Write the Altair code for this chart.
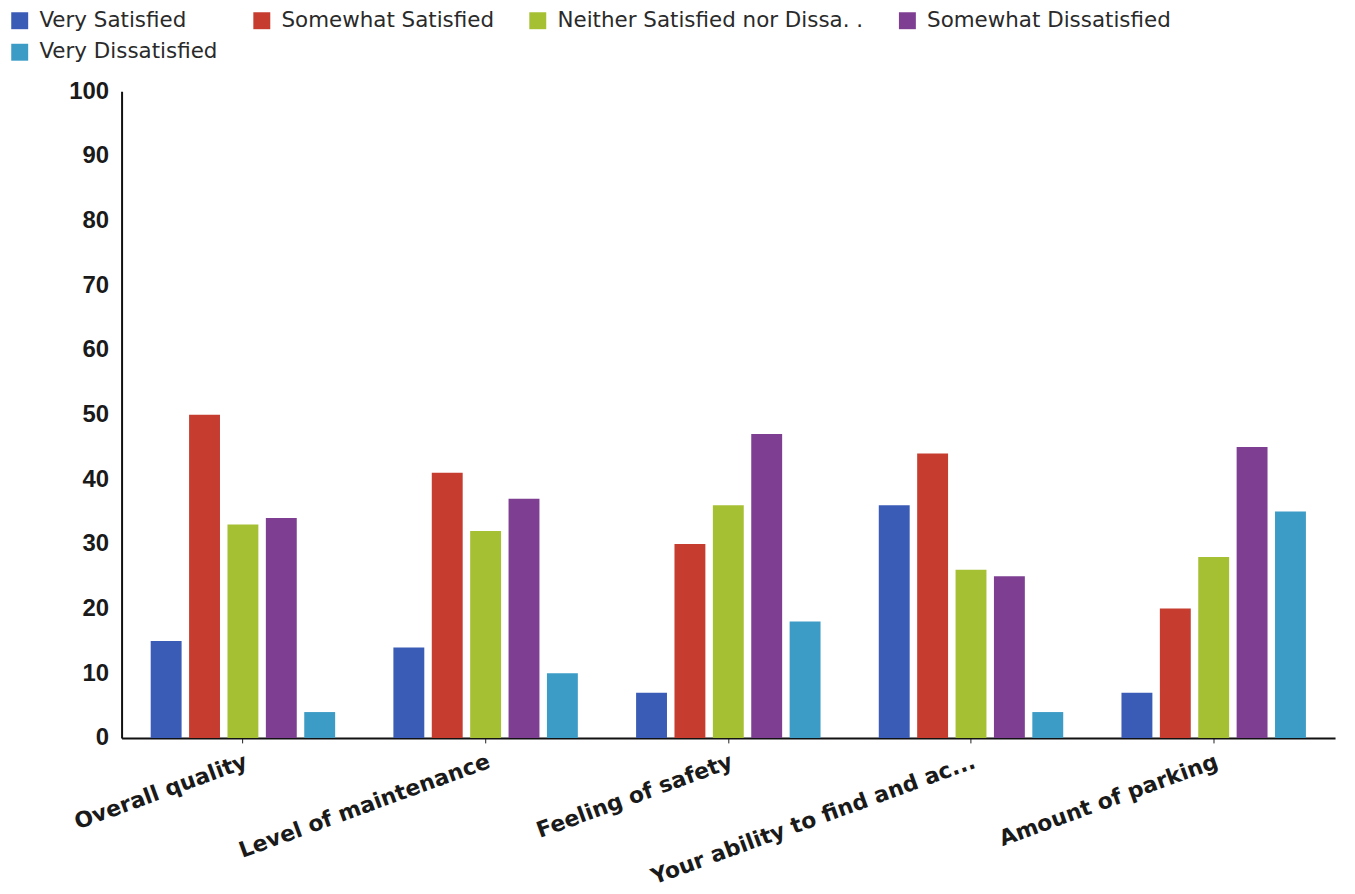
import altair as alt
import pandas as pd

categories = ["Overall quality", "Level of maintenance", "Feeling of safety",
              "Your ability to find and ac...", "Amount of parking"]
series = ["Very Satisfied", "Somewhat Satisfied", "Neither Satisfied nor Dissa. .",
          "Somewhat Dissatisfied", "Very Dissatisfied"]
colors = ["#3b5cb6", "#c63c2f", "#a6c034", "#7e3f92", "#3c9cc6"]

very_satisfied = [15, 14, 7, 36, 7]
somewhat_satisfied = [50, 41, 30, 44, 20]
neither = [33, 32, 36, 26, 28]
somewhat_dissatisfied = [34, 37, 47, 25, 45]
very_dissatisfied = [4, 10, 18, 4, 35]

values = [very_satisfied, somewhat_satisfied, neither, somewhat_dissatisfied, very_dissatisfied]
rows = []
for s, vals in zip(series, values):
    for c, v in zip(categories, vals):
        rows.append({"category": c, "series": s, "value": v})
df = pd.DataFrame(rows)

chart = alt.Chart(df).mark_bar().encode(
    x=alt.X("category:N", sort=categories, title=None,
            scale=alt.Scale(paddingInner=0.24, paddingOuter=0.12),
            axis=alt.Axis(labelAngle=-20, labelAlign="right", labelBaseline="top",
                          labelFontSize=22, labelFontWeight="bold", labelColor="#1a1a1a",
                          labelFont="DejaVu Sans",
                          labelPadding=8, tickSize=5, tickColor="#222",
                          domainColor="#111", domainWidth=2, labelLimit=400)),
    xOffset=alt.XOffset("series:N", sort=series,
                        scale=alt.Scale(paddingInner=0.195, paddingOuter=0.0)),
    y=alt.Y("value:Q", title=None,
            scale=alt.Scale(domain=[0, 100], nice=False),
            axis=alt.Axis(values=list(range(0, 101, 10)), grid=False, ticks=False,
                          labelFontSize=24, labelFontWeight="bold", labelColor="#1a1a1a",
                          labelFont="Liberation Sans",
                          labelPadding=13, domainColor="#111", domainWidth=2)),
    color=alt.Color("series:N", sort=series,
                    scale=alt.Scale(domain=series, range=colors),
                    legend=alt.Legend(title=None, orient="none", legendX=-113, legendY=-82,
                                      columns=4, direction="horizontal",
                                      symbolType="square", symbolSize=289,
                                      symbolStrokeWidth=0, labelFontSize=21.5,
                                      labelFont="DejaVu Sans", labelColor="#2a2a2a",
                                      labelOffset=9, columnPadding=33, rowPadding=9,
                                      labelLimit=400)),
).properties(
    width=1218, height=649,
    autosize=alt.AutoSizeParams(type="none"),
    padding={"left": 114, "top": 82, "right": 12, "bottom": 150},
).configure_view(stroke=None)

chart.save("out.html", embed_options={"renderer": "svg", "actions": False})
